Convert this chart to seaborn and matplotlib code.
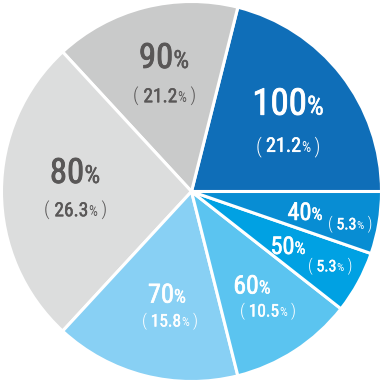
import matplotlib
matplotlib.use("Agg")
import matplotlib.pyplot as plt
import matplotlib.patheffects as pe
import seaborn as sns
from matplotlib import font_manager as fm
from matplotlib.offsetbox import TextArea, HPacker, AnnotationBbox

# ---- data ----
categories = ["100", "90", "80", "70", "60", "50", "40"]
shares = [21.1, 15.8, 26.3, 15.8, 10.5, 5.3, 5.3]          # slice sizes (from angles)
share_labels = ["21.2", "21.2", "26.3", "15.8", "10.5", "5.3", "5.3"]  # printed text
colors = ["#0f6eb8", "#c9caca", "#dcdddd", "#88d0f4", "#5bc4f0", "#00a1e3", "#088dd3"]
text_colors = ["white", "#595757", "#595757", "white", "white", "white", "white"]

# ---- layout (pixel centres of label rows, font sizes) ----
main_pos = [(288, 101), (164, 55), (75, 170), (167, 293), (252, 284), (288, 245), (305, 211)]
main_size = [26.5, 25, 25, 19, 18.5, 17.5, 17.5]
sub_pos = [(288, 144), (165, 95), (76, 209), (170, 320), (268, 310), (330, 265), (350, 223)]
sub_size = [14.5, 14, 14, 12.5, 12.5, 11.5, 11.5]

sns.set_theme(style="white")
avail = {f.name for f in fm.fontManager.ttflist}
if "Roboto Condensed" in avail:
    FAM, STR = "Roboto Condensed", "normal"
else:
    FAM, STR = "DejaVu Sans", "condensed"
plt.rcParams['font.family'] = [FAM, 'DejaVu Sans']

W = 383
fig = plt.figure(figsize=(W / 100, W / 100), dpi=100)
ax = fig.add_axes([0, 0, 1, 1])
ax.pie(shares, colors=colors, startangle=0, counterclock=True,
       wedgeprops=dict(edgecolor="white", linewidth=2.2))
R = 190.0
ax.set_xlim(-191.5 / R, 191.5 / R)
ax.set_ylim(-191.5 / R, 191.5 / R)
ax.set_aspect("equal")
ax.axis("off")


def ta(s, size, color, weight="normal", stroke=0.0):
    props = dict(size=size, color=color, family=FAM, fontstretch=STR, weight=weight)
    if stroke > 0:
        props["path_effects"] = [pe.Stroke(linewidth=stroke, foreground=color), pe.Normal()]
    return TextArea(s, textprops=props)


def place(children, px, py, size):
    em = size * 100 / 72
    box = HPacker(children=children, align="baseline", pad=0, sep=0)
    x = (px - 191.5) / R
    y = (191.5 - (py + 0.1 * em)) / R
    ab = AnnotationBbox(box, (x, y), xycoords="data", frameon=False,
                        box_alignment=(0.5, 0.5), pad=0)
    ax.add_artist(ab)


for i, cat in enumerate(categories):
    c = text_colors[i]
    ms = main_size[i]
    place([ta(cat, ms, c, stroke=ms * 0.025), ta("%", ms * 0.72, c, stroke=ms * 0.012)],
          *main_pos[i], ms)
    ss = sub_size[i]
    place([ta("( ", ss, c, "light"), ta(share_labels[i], ss, c, stroke=ss * 0.025),
           ta("%", ss * 0.72, c), ta(" )", ss, c, "light")], *sub_pos[i], ss)

fig.savefig("out.png", dpi=100)
